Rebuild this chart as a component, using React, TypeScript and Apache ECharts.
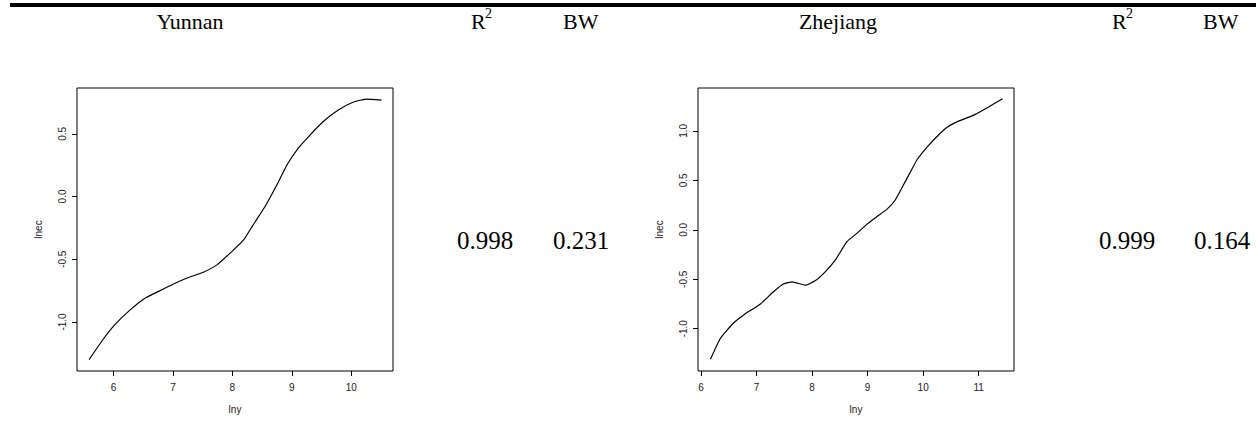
import React, { useEffect, useRef } from "react";
import * as echarts from "echarts";

const regions = ["Yunnan", "Zhejiang"];
const r2Values = ["0.998", "0.999"];
const bwValues = ["0.231", "0.164"];

const yunnanX = [5.59, 5.83, 6.02, 6.28, 6.53, 6.75, 7.01, 7.23, 7.51, 7.74, 7.99, 8.19, 8.35, 8.55, 8.75, 8.92, 9.11, 9.31, 9.53, 9.79, 10.04, 10.26, 10.51];
const yunnanY = [-1.3, -1.136, -1.024, -0.904, -0.811, -0.758, -0.697, -0.652, -0.604, -0.545, -0.439, -0.346, -0.226, -0.08, 0.093, 0.253, 0.386, 0.492, 0.598, 0.691, 0.753, 0.777, 0.769];

const zhejiangX = [6.17, 6.35, 6.58, 6.77, 7.07, 7.31, 7.49, 7.64, 7.88, 8.06, 8.24, 8.42, 8.63, 8.81, 8.99, 9.17, 9.35, 9.5, 9.68, 9.89, 10.07, 10.28, 10.45, 10.66, 10.93, 11.17, 11.43];
const zhejiangY = [-1.309, -1.096, -0.944, -0.86, -0.749, -0.624, -0.546, -0.526, -0.56, -0.513, -0.422, -0.304, -0.118, -0.034, 0.057, 0.135, 0.209, 0.304, 0.489, 0.708, 0.836, 0.961, 1.045, 1.103, 1.164, 1.238, 1.325];

const yunnanXTicks = [6, 7, 8, 9, 10];
const yunnanYTicks = [-1.0, -0.5, 0.0, 0.5];
const zhejiangXTicks = [6, 7, 8, 9, 10, 11];
const zhejiangYTicks = [-1.0, -0.5, 0.0, 0.5, 1.0];

const xName = "lny";
const yName = "lnec";

function pairs(xs: number[], ys: number[]) {
  return xs.map((x, i) => [x, ys[i]]);
}

function fmtY(v: number) {
  return v.toFixed(1);
}

const sansFont = "Liberation Sans";
const serifFont = "Liberation Serif";

function makeXAxis(gridIndex: number, min: number, max: number, ticks: number[]) {
  return {
    type: "value",
    gridIndex,
    position: "bottom",
    min,
    max,
    name: xName,
    nameLocation: "middle",
    nameGap: 33,
    nameTextStyle: { fontFamily: sansFont, fontSize: 10, color: "#222" },
    axisLine: { show: false, onZero: false },
    splitLine: { show: false },
    axisTick: { show: true, length: 5, lineStyle: { color: "#000", width: 1 }, customValues: ticks },
    axisLabel: {
      customValues: ticks,
      margin: 11,
      fontFamily: sansFont,
      fontSize: 10,
      color: "#222",
      formatter: (v: number) => String(v),
    },
  };
}

function makeYAxis(gridIndex: number, min: number, max: number, ticks: number[]) {
  return {
    type: "value",
    gridIndex,
    position: "left",
    min,
    max,
    name: yName,
    nameLocation: "middle",
    nameGap: 34,
    nameRotate: 90,
    nameTextStyle: { fontFamily: sansFont, fontSize: 10, color: "#222" },
    axisLine: { show: false, onZero: false },
    splitLine: { show: false },
    axisTick: { show: true, length: 5, lineStyle: { color: "#000", width: 1 }, customValues: ticks },
    axisLabel: {
      customValues: ticks,
      rotate: 90,
      margin: 10,
      fontFamily: sansFont,
      fontSize: 10,
      color: "#222",
      formatter: (v: number) => fmtY(v),
    },
  };
}

function serifText(text: string, x: number, y: number, size: number, align = "left") {
  return {
    type: "text",
    x,
    y,
    style: {
      text,
      fontFamily: serifFont,
      fontSize: size,
      fill: "#000",
      textAlign: align,
      textVerticalAlign: "middle",
    },
  };
}

export default function App() {
  const ref = useRef<HTMLDivElement>(null);
  useEffect(() => {
    if (!ref.current) return;
    const chart = echarts.init(ref.current, null, { renderer: "svg" });
    const headerY = 21;
    const valueY = 240;
    const option: any = {
      animation: false,
      backgroundColor: "#fff",
      grid: [
        { left: 77, top: 88, width: 316, height: 283, show: true, borderColor: "#000", borderWidth: 1, backgroundColor: "transparent" },
        { left: 698, top: 88, width: 316, height: 283, show: true, borderColor: "#000", borderWidth: 1, backgroundColor: "transparent" },
      ],
      xAxis: [
        makeXAxis(0, 5.386, 10.703, yunnanXTicks),
        makeXAxis(1, 5.946, 11.635, zhejiangXTicks),
      ],
      yAxis: [
        makeYAxis(0, -1.391, 0.865, yunnanYTicks),
        makeYAxis(1, -1.427, 1.433, zhejiangYTicks),
      ],
      series: [
        {
          type: "line",
          xAxisIndex: 0,
          yAxisIndex: 0,
          data: pairs(yunnanX, yunnanY),
          smooth: 0.15,
          showSymbol: false,
          lineStyle: { color: "#000", width: 1.2 },
        },
        {
          type: "line",
          xAxisIndex: 1,
          yAxisIndex: 1,
          data: pairs(zhejiangX, zhejiangY),
          smooth: 0.15,
          showSymbol: false,
          lineStyle: { color: "#000", width: 1.2 },
        },
      ],
      graphic: [
        { type: "rect", shape: { x: 10, y: 3, width: 1246, height: 4 }, style: { fill: "#000" } },
        serifText(regions[0], 190, headerY, 22, "center"),
        serifText("R", 471, headerY, 22),
        serifText("2", 485, headerY - 8, 14),
        serifText("BW", 563, headerY, 22),
        serifText(regions[1], 838, headerY, 22, "center"),
        serifText("R", 1112, headerY, 22),
        serifText("2", 1126, headerY - 8, 14),
        serifText("BW", 1203, headerY, 22),
        serifText(r2Values[0], 485, valueY, 25, "center"),
        serifText(bwValues[0], 581, valueY, 25, "center"),
        serifText(r2Values[1], 1127, valueY, 25, "center"),
        serifText(bwValues[1], 1222, valueY, 25, "center"),
      ],
    };
    chart.setOption(option);
    return () => chart.dispose();
  }, []);
  return (
    <div
      ref={ref}
      style={{ position: "absolute", left: 0, top: 0, width: 1256, height: 431, background: "#fff" }}
    />
  );
}
